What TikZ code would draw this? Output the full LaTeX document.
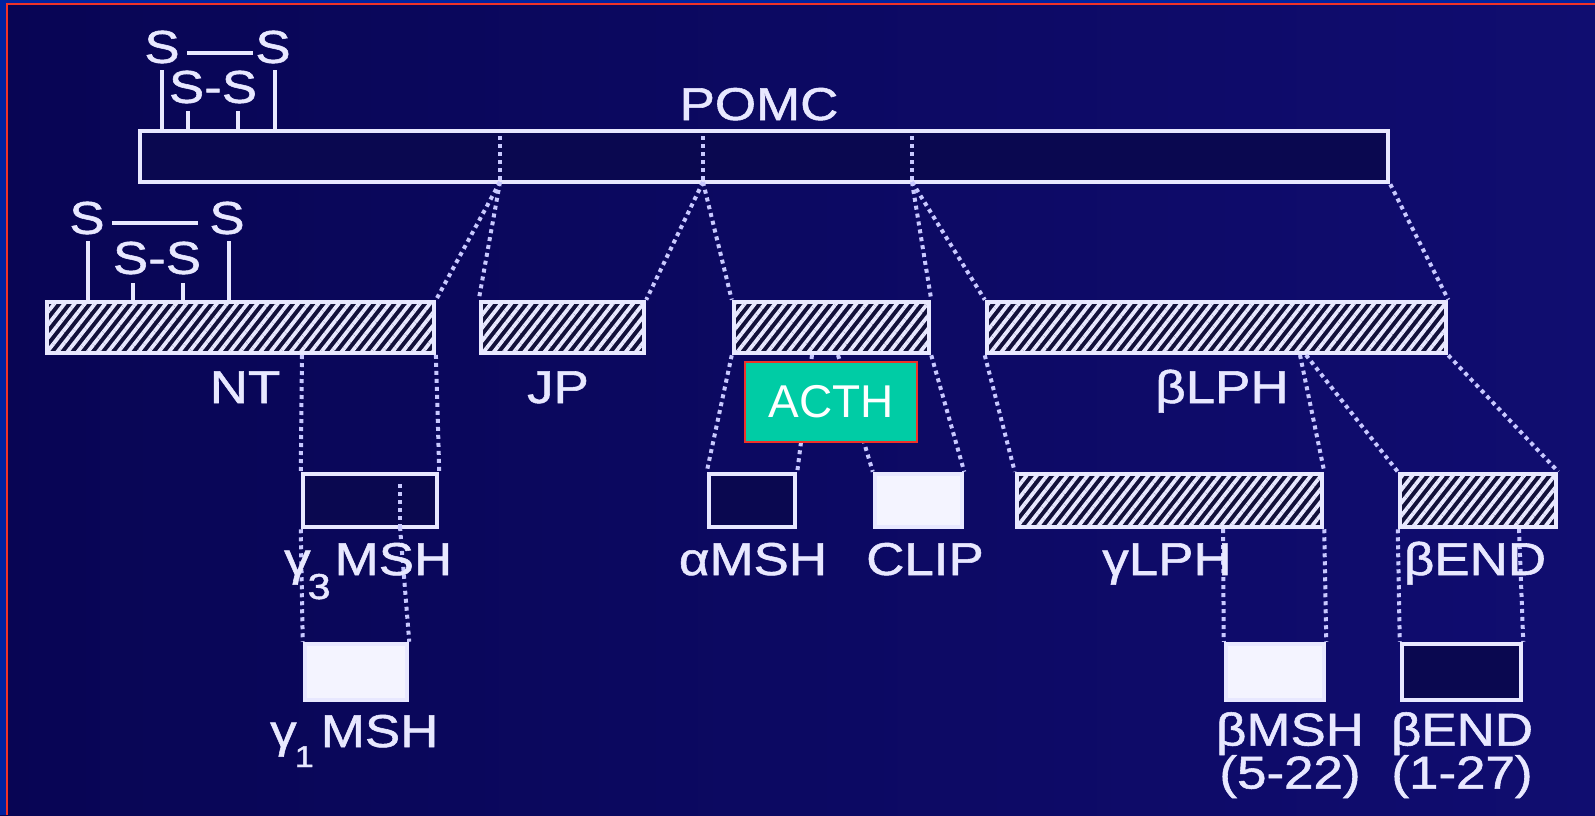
\documentclass[tikz,border=0pt]{standalone}
\usepackage{fontspec}
\newfontfamily\lab[FakeStretch=1.15,FakeBold=1.2]{Liberation Sans}
\newfontfamily\plainlab{Liberation Sans}
\usetikzlibrary{patterns.meta}
\definecolor{bgA}{RGB}{8,5,84}
\definecolor{bgB}{RGB}{16,13,112}
\definecolor{edgeblue}{RGB}{0,34,160}
\definecolor{edgered}{RGB}{240,50,40}
\definecolor{linec}{RGB}{232,232,255}
\definecolor{dotc}{RGB}{200,200,255}
\definecolor{hatchbg}{RGB}{18,16,58}
\definecolor{acthc}{RGB}{0,204,165}
\definecolor{wfill}{RGB}{244,244,255}
\definecolor{openfill}{RGB}{10,8,80}
\begin{document}
\begin{tikzpicture}[x=1pt,y=-1pt,
  bar/.style={draw=linec, line width=4.5pt, inner sep=0pt, minimum height=51pt},
  hatchbar/.style={bar, preaction={fill=hatchbg}, pattern={Lines[angle=52,distance=8pt,line width=3.8pt]}, pattern color=linec},
  openbar/.style={bar, fill=openfill},
  whitebar/.style={bar, fill=wfill},
  dotl/.style={draw=dotc, line width=4pt, dash pattern=on 4pt off 4pt},
  solidl/.style={draw=linec, line width=4pt},
  lbl/.style={text=linec, inner sep=0pt, font=\lab\fontsize{46}{43}\selectfont},
]
\useasboundingbox (0,0) rectangle (1595,815);
\shade[left color=bgA, right color=bgB] (0,0) rectangle (1595,815);
\fill[edgeblue] (0,0) rectangle (6,815);
\fill[edgeblue] (0,0) rectangle (1595,3);
\draw[edgered, line width=2pt] (7,815) -- (7,4) -- (1595,4);

% ---------- boxes ----------
\node[openbar, minimum width=1248pt] (pomc) at (764,156.5) {};
\node[hatchbar, minimum width=387pt] (nt) at (240.5,327.5) {};
\node[hatchbar, minimum width=163pt] (jp) at (562.5,327.5) {};
\node[hatchbar, minimum width=195pt] (acth) at (831.5,327.5) {};
\node[hatchbar, minimum width=459pt] (blph) at (1216.5,327.5) {};
\node[openbar, minimum width=134pt, minimum height=53pt] (g3) at (370,500.5) {};
\node[openbar, minimum width=86pt, minimum height=53pt] (amsh) at (752,500.5) {};
\node[whitebar, minimum width=87pt, minimum height=53pt] (clip) at (918.5,500.5) {};
\node[hatchbar, minimum width=305pt, minimum height=53pt] (glph) at (1169.5,500.5) {};
\node[hatchbar, minimum width=156pt, minimum height=53pt] (bend) at (1478,500.5) {};
\node[whitebar, minimum width=102pt, minimum height=56pt] (g1) at (356,672) {};
\node[whitebar, minimum width=98pt, minimum height=56pt] (bmsh) at (1275,672) {};
\node[openbar, minimum width=119pt, minimum height=56pt] (bendbox) at (1461.5,672) {};

% ---------- cleavage points ----------
\coordinate (p1t) at (500,136); \coordinate (p1) at (500,182);
\coordinate (p2t) at (703,136); \coordinate (p2) at (703,182);
\coordinate (p3t) at (912,136); \coordinate (p3) at (912,182);
\coordinate (ntseam) at (302,355);
\coordinate (g3tt) at (400,484); \coordinate (g3t) at (400,527);
\coordinate (as1) at (812,355);
\coordinate (as2) at (838,355);
\coordinate (bl1) at (1300,355);
\coordinate (bl2) at (1306,355);
\coordinate (gl1) at (1223,529);
\coordinate (be1) at (1519,529);

% ---------- dotted connectors ----------
\draw[dotl] (p1t) -- (p1); \draw[dotl] (p2t) -- (p2); \draw[dotl] (p3t) -- (p3);
\draw[dotl] (p1) -- (nt.north east);
\draw[dotl] (p1) -- (jp.north west);
\draw[dotl] (p2) -- (jp.north east);
\draw[dotl] (p2) -- (acth.north west);
\draw[dotl] (p3) -- (acth.north east);
\draw[dotl] (p3) -- (blph.north west);
\draw[dotl] (pomc.south east) -- (blph.north east);
\draw[dotl] (ntseam) -- (g3.north west);
\draw[dotl] (nt.south east) -- (g3.north east);
\draw[dotl] (g3tt) -- (g3t);
\draw[dotl] (g3.south west) -- (g1.north west);
\draw[dotl] (g3t) -- (g1.north east);
\draw[dotl] (acth.south west) -- (amsh.north west);
\draw[dotl] (as1) -- (amsh.north east);
\draw[dotl] (as2) -- (clip.north west);
\draw[dotl] (acth.south east) -- (clip.north east);
\draw[dotl] (blph.south west) -- (glph.north west);
\draw[dotl] (bl1) -- (glph.north east);
\draw[dotl] (bl2) -- (bend.north west);
\draw[dotl] (blph.south east) -- (bend.north east);
\draw[dotl] (gl1) -- (bmsh.north west);
\draw[dotl] (glph.south east) -- (bmsh.north east);
\draw[dotl] (bend.south west) -- (bendbox.north west);
\draw[dotl] (be1) -- (bendbox.north east);

% ---------- disulfide bridges ----------
\node[lbl] (sa1) at (162,47) {S};
\node[lbl] (sa2) at (273,47) {S};
\node[lbl] (ssa) at (213,87) {S-S};
\draw[solidl] (187,53) -- (253,53);
\draw[solidl] (162,70) -- (162,70 |- pomc.north);
\draw[solidl] (275,70) -- (275,70 |- pomc.north);
\draw[solidl] (188,111) -- (188,111 |- pomc.north);
\draw[solidl] (238,111) -- (238,111 |- pomc.north);

\node[lbl] (sb1) at (87,218) {S};
\node[lbl] (sb2) at (227,218) {S};
\node[lbl] (ssb) at (157,258) {S-S};
\draw[solidl] (112,223) -- (198,223);
\draw[solidl] (88,241) -- (88,241 |- nt.north);
\draw[solidl] (229,241) -- (229,241 |- nt.north);
\draw[solidl] (133,283) -- (133,283 |- nt.north);
\draw[solidl] (183,283) -- (183,283 |- nt.north);

% ---------- labels ----------
\node[lbl, anchor=base] (lpomc) at (759,120) {POMC};
\node[lbl, anchor=base] (lnt) at (245,403) {NT};
\node[lbl, anchor=base] (ljp) at (558,403) {JP};
\node[lbl, anchor=base] (lblph) at (1222,403) {βLPH};
\node[lbl, anchor=base] (lamsh) at (753,575) {αMSH};
\node[lbl, anchor=base] (lclip) at (925,575) {CLIP};
\node[lbl, anchor=base] (lglph) at (1167,575) {γLPH};
\node[lbl, anchor=base] (lbend) at (1475,575) {βEND};
\node[lbl, anchor=base west] (lg3) at (284,575) {γ\kern-3pt\raisebox{-24pt}{\fontsize{36}{36}\selectfont 3}\kern4pt MSH};
\node[lbl, anchor=base west] (lg1) at (270,747) {γ\kern-2pt\raisebox{-20pt}{\fontsize{30}{30}\selectfont 1}\kern7pt MSH};
\node[lbl, anchor=north, align=center] (lbmsh) at (1290,712) {βMSH\\(5-22)};
\node[lbl, anchor=north, align=center] (lbend2) at (1462,712) {βEND\\(1-27)};

% ---------- ACTH overlay ----------
\node[draw=edgered, line width=2pt, fill=acthc, minimum width=172pt, minimum height=80pt, inner sep=0pt, text=white, font=\plainlab\fontsize{46}{46}\selectfont] (acthlab) at (831,402) {ACTH};
\end{tikzpicture}
\end{document}
